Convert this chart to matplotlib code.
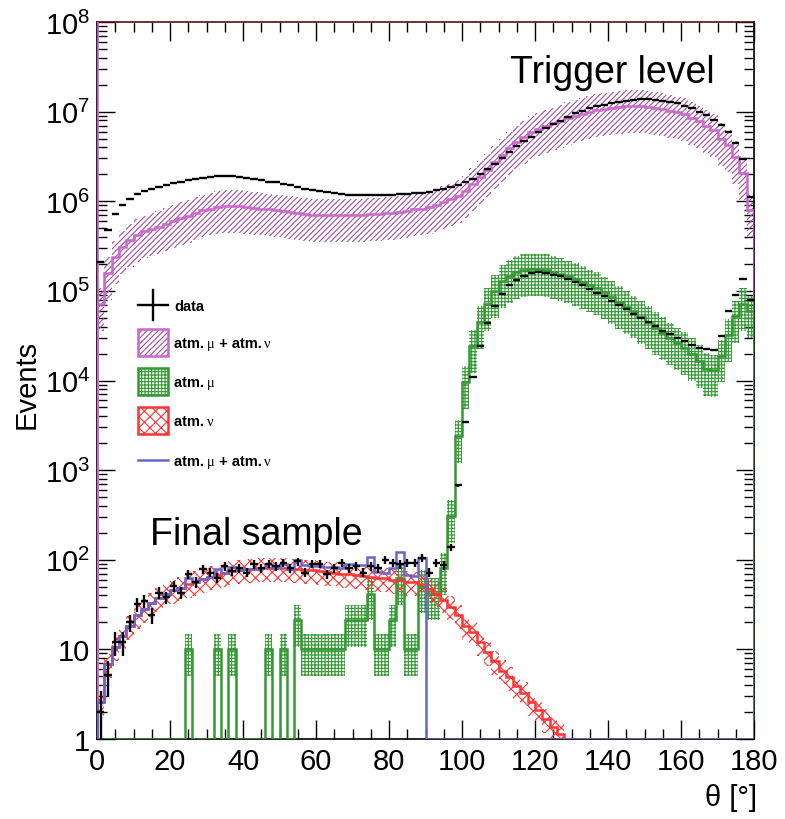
import numpy as np
import matplotlib
matplotlib.use('Agg')
import matplotlib.pyplot as plt
from matplotlib.patches import Rectangle
from matplotlib.lines import Line2D
from matplotlib.ticker import MultipleLocator, FixedLocator, FuncFormatter, NullFormatter

plt.rcParams['font.family'] = ['Liberation Sans', 'DejaVu Sans']
plt.rcParams['mathtext.fontset'] = 'custom'
plt.rcParams['mathtext.rm'] = 'Liberation Sans'
plt.rcParams['mathtext.it'] = 'Liberation Sans:italic'
plt.rcParams['mathtext.bf'] = 'Liberation Sans:bold'
plt.rcParams['hatch.linewidth'] = 0.8

# ---------------- data (2 degree bins, 0..180) ----------------
bin_edges = np.arange(0, 181, 2)

data_trigger = [
    2.1e5, 4.8e5, 7.2e5, 9.1e5, 1.07e6, 1.20e6, 1.29e6, 1.38e6, 1.45e6, 1.51e6,
    1.58e6, 1.66e6, 1.74e6, 1.78e6, 1.82e6, 1.86e6, 1.90e6, 1.90e6, 1.90e6, 1.86e6,
    1.82e6, 1.78e6, 1.74e6, 1.66e6, 1.62e6, 1.55e6, 1.51e6, 1.45e6, 1.38e6, 1.32e6,
    1.29e6, 1.26e6, 1.23e6, 1.20e6, 1.17e6, 1.17e6, 1.17e6, 1.17e6, 1.17e6, 1.17e6,
    1.17e6, 1.20e6, 1.20e6, 1.23e6, 1.23e6, 1.26e6, 1.32e6, 1.38e6, 1.45e6, 1.51e6,
    1.62e6, 1.78e6, 2.0e6, 2.29e6, 2.63e6, 3.02e6, 3.55e6, 4.17e6, 4.68e6, 5.25e6,
    5.89e6, 6.61e6, 7.24e6, 7.94e6, 8.71e6, 9.55e6, 1.02e7, 1.10e7, 1.15e7, 1.20e7,
    1.26e7, 1.29e7, 1.32e7, 1.35e7, 1.38e7, 1.38e7, 1.35e7, 1.32e7, 1.29e7, 1.26e7,
    1.17e7, 1.10e7, 1.00e7, 9.1e6, 8.1e6, 7.1e6, 6.0e6, 4.5e6, 2.95e6, 1.12e6]

mc_trigger = [
    7.1e4, 1.58e5, 2.4e5, 3.1e5, 3.7e5, 4.2e5, 4.6e5, 4.9e5, 5.2e5, 5.6e5,
    6.0e5, 6.5e5, 6.9e5, 7.4e5, 7.9e5, 8.3e5, 8.7e5, 8.9e5, 8.9e5, 8.9e5,
    8.7e5, 8.5e5, 8.3e5, 8.1e5, 7.9e5, 7.8e5, 7.6e5, 7.4e5, 7.2e5, 7.1e5,
    7.1e5, 7.1e5, 7.1e5, 7.1e5, 7.1e5, 7.1e5, 7.1e5, 7.2e5, 7.2e5, 7.4e5,
    7.4e5, 7.6e5, 7.8e5, 8.1e5, 8.3e5, 8.7e5, 9.1e5, 9.8e5, 1.05e6, 1.15e6,
    1.29e6, 1.55e6, 1.86e6, 2.24e6, 2.75e6, 3.3e6, 3.9e6, 4.6e6, 5.25e6, 5.9e6,
    6.45e6, 6.9e6, 7.4e6, 7.9e6, 8.5e6, 9.0e6, 9.5e6, 1.0e7, 1.05e7, 1.07e7,
    1.10e7, 1.12e7, 1.15e7, 1.15e7, 1.15e7, 1.12e7, 1.10e7, 1.07e7, 1.02e7, 9.8e6,
    9.5e6, 8.5e6, 7.8e6, 6.9e6, 6.2e6, 5.0e6, 4.2e6, 3.1e6, 2.04e6, 7.9e5]

data_final = [
    2, 5.2, 12, 12, 20, 32, 35, 24, 43, 38,
    51, 43, 69, 56, 79, 72, 63, 85, 75, 81,
    72, 89, 81, 90, 85, 93, 81, 96, 72, 90,
    90, 69, 81, 93, 81, 85, 72, 85, 81, 100,
    93, 89, 93, 93, 105, 72, 93, 87, 138, 680,
    3400, 1.1e4, 2.4e4, 4.4e4, 6.8e4, 9.3e4, 1.15e5, 1.32e5, 1.48e5, 1.58e5,
    1.62e5, 1.58e5, 1.51e5, 1.45e5, 1.35e5, 1.26e5, 1.15e5, 1.05e5, 9.5e4, 8.7e4,
    7.8e4, 6.9e4, 6.2e4, 5.5e4, 5.0e4, 4.5e4, 4.1e4, 3.6e4, 3.3e4, 3.0e4,
    2.75e4, 2.5e4, 2.3e4, 2.25e4, 2.2e4, 3.1e4, 6.0e4, 9.0e4, 1.35e5, 8.0e4]

atm_mu_final = [
    0, 0, 0, 0, 0, 0, 0, 0, 0, 0,
    0, 0, 10, 0, 0, 0, 10, 0, 10, 0,
    0, 0, 0, 10, 0, 10, 0, 21, 10, 10,
    10, 10, 10, 10, 21, 21, 21, 42, 10, 10,
    21, 62, 10, 10, 51, 42, 42, 80, 310, 2400,
    9700, 2.45e4, 4.5e4, 7.2e4, 1.0e5, 1.29e5, 1.48e5, 1.62e5, 1.70e5, 1.74e5,
    1.74e5, 1.70e5, 1.62e5, 1.55e5, 1.45e5, 1.35e5, 1.26e5, 1.15e5, 1.07e5, 9.6e4,
    8.5e4, 7.6e4, 6.6e4, 5.9e4, 5.1e4, 4.5e4, 3.9e4, 3.4e4, 2.95e4, 2.6e4,
    2.3e4, 2.0e4, 1.66e4, 1.35e4, 1.3e4, 1.9e4, 3.2e4, 5.2e4, 7.2e4, 5.9e4]

atm_nu_final = [
    2.6, 6.9, 10.5, 14, 18, 24, 28, 33, 37, 42,
    46, 49, 53, 57, 61, 65, 68, 71, 74, 76,
    78, 79, 80, 80, 80, 80, 79, 78, 77, 76,
    75, 73, 72, 70, 69, 67, 66, 64, 63, 62,
    60, 59, 57, 56, 54, 47, 42, 36, 30, 24,
    18, 15.5, 12, 9.3, 7.4, 5.8, 4.9, 3.9, 3.3, 2.6,
    2.1, 1.66, 1.35, 1.15, 0, 0, 0, 0, 0, 0,
    0, 0, 0, 0, 0, 0, 0, 0, 0, 0,
    0, 0, 0, 0, 0, 0, 0, 0, 0, 0]

sum_final = [
    2.6, 6.9, 10.5, 14, 18, 24, 28, 33, 37, 42,
    46, 49, 63, 57, 61, 65, 78, 71, 84, 76,
    78, 79, 80, 90, 80, 90, 79, 99, 87, 86,
    85, 83, 82, 80, 90, 88, 87, 106, 73, 72,
    81, 121, 67, 66, 105, 0, 0, 0, 0, 0,
    0, 0, 0, 0, 0, 0, 0, 0, 0, 0,
    0, 0, 0, 0, 0, 0, 0, 0, 0, 0,
    0, 0, 0, 0, 0, 0, 0, 0, 0, 0,
    0, 0, 0, 0, 0, 0, 0, 0, 0, 0]

# relative systematic band widths
band_trigger = 0.5
band_mu = 0.5
band_nu = 0.3

VIOLET = '#cc66cc'
VIOLET_H = '#a050a0'
GREEN = '#339933'
RED = '#ff3333'
BLUE = '#6666cc'
HATCH_MU = '+++++'

# ---------------- figure ----------------
W, H = 785, 820
fig = plt.figure(figsize=(W / 100, H / 100), dpi=100)
L, R, T, B = 97, 754, 23, 740
ax = fig.add_axes([L / W, 1 - B / H, (R - L) / W, (B - T) / H])
ax.set_yscale('log')
ax.set_xlim(0, 180)
ax.set_ylim(1, 1e8)

centers = 0.5 * (bin_edges[:-1] + bin_edges[1:])
YMIN = 1.0


def band(vals, frac, color, hatch, z):
    v = np.asarray(vals, float)
    m = v > 0
    lo = v * (1 - frac)
    hi = v * (1 + frac)
    ax.bar(bin_edges[:-1][m], (hi - lo)[m], width=2, bottom=lo[m], align='edge',
           fill=False, hatch=hatch, edgecolor=color, linewidth=0, zorder=z)


def hist(vals, color, z, lw=1.8):
    v = np.asarray(vals, float)
    ax.stairs(np.where(v > 0, v, YMIN), bin_edges, baseline=YMIN,
              color=color, lw=lw, zorder=z)


band(mc_trigger, band_trigger, VIOLET_H, '//////', 2)
hist(mc_trigger, VIOLET, 3)
band(atm_mu_final, band_mu, GREEN, HATCH_MU, 4)
band(atm_nu_final, band_nu, RED, 'xxx', 5)
hist(atm_mu_final, GREEN, 6)
hist(atm_nu_final, RED, 7)
hist(sum_final, BLUE, 8)

dt = np.asarray(data_trigger, float)
df = np.asarray(data_final, float)
ax.errorbar(centers, dt, xerr=1, yerr=np.sqrt(dt), fmt='none', ecolor='k',
            elinewidth=1.7, capsize=0, zorder=9)
ax.errorbar(centers, df, xerr=1, yerr=np.sqrt(df), fmt='none', ecolor='k',
            elinewidth=1.7, capsize=0, zorder=9)

ax.axvline(0.3, color=VIOLET, lw=1.2, zorder=3)

# ticks (only inside the visible range)
ax.xaxis.set_major_locator(MultipleLocator(20))
ax.xaxis.set_minor_locator(MultipleLocator(5))
y_major = [10.0 ** k for k in range(0, 9)]
y_minor = [m * 10.0 ** k for k in range(0, 8) for m in range(2, 10)]
ax.yaxis.set_major_locator(FixedLocator(y_major))
ax.yaxis.set_minor_locator(FixedLocator(y_minor))
ax.yaxis.set_minor_formatter(NullFormatter())


def yfmt(v, _):
    k = int(round(np.log10(v)))
    if k == 0:
        return '1'
    if k == 1:
        return '10'
    return r'$10^{%d}$' % k


ax.yaxis.set_major_formatter(FuncFormatter(yfmt))
ax.tick_params(which='both', direction='in', top=True, right=True, width=1.0)
ax.xaxis.set_tick_params(which='major', length=14, pad=6, labelsize=21)
ax.xaxis.set_tick_params(which='minor', length=7)
ax.yaxis.set_tick_params(which='major', length=13, pad=5, labelsize=21)
ax.yaxis.set_tick_params(which='minor', length=7)
for s in ax.spines.values():
    s.set_linewidth(1.2)
ax.spines['top'].set_color('#5a1010')

# texts
fig.text(510 / W, 1 - 83 / H, 'Trigger level', fontsize=27, va='baseline', ha='left')
fig.text(150 / W, 1 - 545 / H, 'Final sample', fontsize=27, va='baseline', ha='left')
fig.text(27 / W, 1 - 384 / H, 'Events', rotation=90, fontsize=21, ha='center', va='center')
fig.text(757 / W, 1 - 806 / H, 'θ [°]', fontsize=21, ha='right', va='baseline')


# legend (manual)
def fx(x):
    return x / W


def fy(y):
    return 1 - y / H


leg_y = [306, 343, 382, 421, 461]
bx0, bx1, bh = 138, 168, 27
# data
fig.add_artist(Line2D([fx(bx0), fx(bx1)], [fy(leg_y[0])] * 2, color='k', lw=1.7,
                      transform=fig.transFigure))
fig.add_artist(Line2D([fx(153)] * 2, [fy(leg_y[0] - 15), fy(leg_y[0] + 15)], color='k',
                      lw=1.7, transform=fig.transFigure))
# boxes
for yc, ec, hc, hatch in [(leg_y[1], VIOLET, VIOLET_H, '//////'),
                          (leg_y[2], GREEN, GREEN, HATCH_MU),
                          (leg_y[3], RED, RED, 'xxx')]:
    fig.add_artist(Rectangle((fx(bx0), fy(yc + bh / 2)), fx(bx1) - fx(bx0), bh / H,
                             fill=False, hatch=hatch, edgecolor=hc, lw=0,
                             transform=fig.transFigure))
    fig.add_artist(Rectangle((fx(bx0), fy(yc + bh / 2)), fx(bx1) - fx(bx0), bh / H,
                             fill=False, edgecolor=ec, lw=1.8,
                             transform=fig.transFigure))
fig.add_artist(Line2D([fx(bx0), fx(bx1)], [fy(leg_y[4])] * 2, color=BLUE, lw=1.8,
                      transform=fig.transFigure))

LFS = 10.5
renderer = fig.canvas.get_renderer()


def leg_text(yc, pieces):
    x = 174.0
    for txt, greek in pieces:
        kw = dict(fontsize=LFS, va='baseline', ha='left')
        if greek:
            kw['family'] = ['Liberation Serif', 'DejaVu Serif']
        else:
            kw['fontweight'] = 'bold'
        t = fig.text(fx(x), fy(yc + 5), txt, **kw)
        bb = t.get_window_extent(renderer=renderer)
        x += bb.width


leg_text(leg_y[0], [('data', False)])
leg_text(leg_y[1], [('atm.\u2009', False), ('μ', True), (' + atm.\u2009', False), ('ν', True)])
leg_text(leg_y[2], [('atm.\u2009', False), ('μ', True)])
leg_text(leg_y[3], [('atm.\u2009', False), ('ν', True)])
leg_text(leg_y[4], [('atm.\u2009', False), ('μ', True), (' + atm.\u2009', False), ('ν', True)])

fig.savefig('out.png', dpi=100)
